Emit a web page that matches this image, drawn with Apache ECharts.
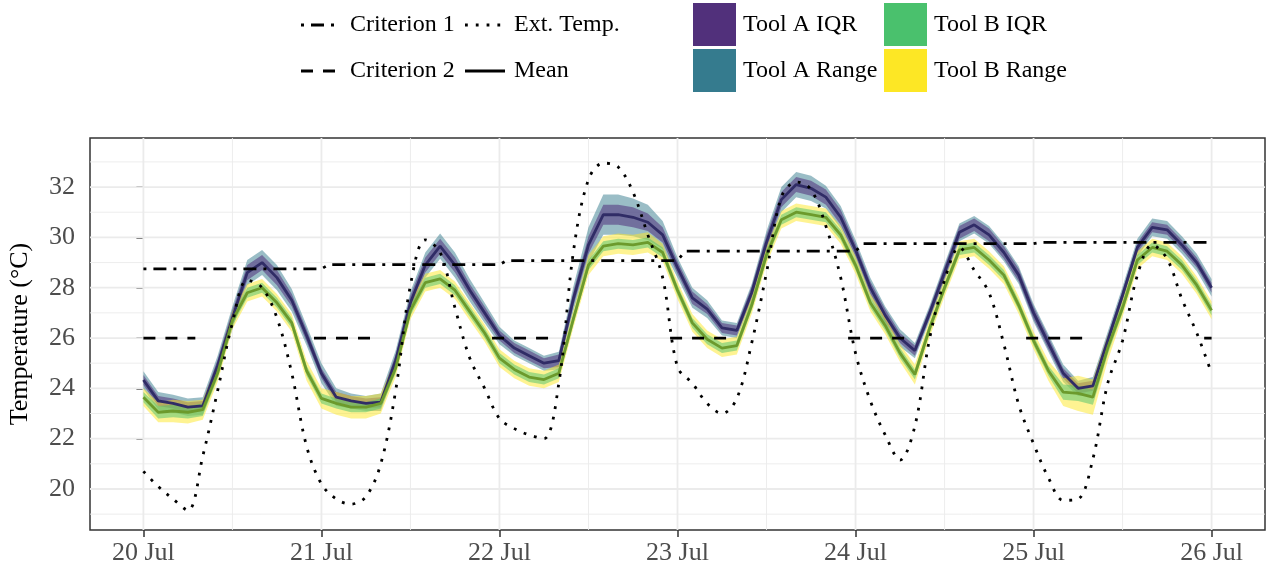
<!DOCTYPE html>
<html>
<head>
<meta charset="utf-8">
<script src="https://cdn.jsdelivr.net/npm/echarts@6/dist/echarts.min.js"></script>
<style>
  html, body { margin: 0; padding: 0; background: #fff; }
  #chart { width: 1273px; height: 572px; }
</style>
</head>
<body>
<div id="chart"></div>
<script>
// hours since 20 Jul 00:00, one reading every 2 h
const hours = Array.from({ length: 73 }, (_, i) => i * 2)

// tool A mean / half IQR / half range
const aMean = [
  24.33, 23.5, 23.4, 23.25, 23.3, 24.9, 26.8, 28.6, 29.0, 28.4, 27.5, 26.1,
  24.6, 23.65, 23.5, 23.4, 23.45, 25.1, 27.4, 28.9, 29.65, 28.9, 27.9, 27.0,
  26.1, 25.6, 25.3, 25.0, 25.1, 27.6, 29.7, 30.9, 30.9, 30.8, 30.6, 30.1,
  28.8, 27.6, 27.15, 26.4, 26.3, 27.8, 29.8, 31.5, 32.1, 31.95, 31.6, 30.8,
  29.5, 28.0, 26.9, 26.0, 25.5, 27.0, 28.6, 30.2, 30.5, 30.1, 29.4, 28.5,
  27.0, 25.8, 24.6, 24.0, 24.1, 25.9, 27.7, 29.6, 30.4, 30.3, 29.7, 29.0,
  28.0
]
const aIqr = [
  .2, .2, .2, .2, .2, .25, .3, .3, .3, .3, .25, .25,
  .2, .2, .2, .2, .2, .25, .3, .3, .3, .3, .25, .25,
  .2, .2, .2, .2, .25, .3, .35, .4, .4, .4, .35, .3,
  .25, .25, .2, .2, .2, .25, .3, .3, .3, .3, .3, .3,
  .25, .25, .25, .2, .2, .2, .25, .25, .25, .25, .25, .25,
  .25, .25, .2, .2, .2, .2, .2, .2, .2, .2, .2, .2,
  .2
]
const aRange = [
  .35, .35, .35, .35, .35, .4, .45, .5, .5, .5, .45, .4,
  .4, .35, .3, .3, .35, .4, .45, .5, .5, .5, .45, .4,
  .35, .3, .3, .3, .35, .5, .7, .8, .8, .75, .7, .55,
  .4, .4, .35, .3, .3, .35, .45, .5, .5, .5, .45, .45,
  .4, .4, .35, .35, .3, .3, .35, .35, .35, .35, .35, .35,
  .35, .35, .35, .3, .35, .35, .35, .35, .35, .35, .35, .35,
  .35
]

// tool B mean / half IQR / half range
const bMean = [
  23.65, 23.05, 23.1, 23.05, 23.15, 24.6, 26.7, 27.8, 28.0, 27.4, 26.6, 24.7,
  23.6, 23.4, 23.25, 23.25, 23.4, 24.8, 27.1, 28.2, 28.35, 27.9, 27.05, 26.2,
  25.2, 24.75, 24.45, 24.35, 24.6, 26.8, 28.9, 29.65, 29.75, 29.7, 29.8, 29.4,
  27.9, 26.6, 25.95, 25.6, 25.7, 27.3, 29.3, 30.7, 31.0, 30.9, 30.8, 30.1,
  28.9, 27.4, 26.5, 25.4, 24.55, 26.4, 28.0, 29.5, 29.6, 29.1, 28.5, 27.3,
  25.9, 24.7, 23.85, 23.8, 23.65, 25.6, 27.2, 29.1, 29.6, 29.45, 28.9, 28.1,
  27.1
]
const bIqr = [
  .2, .25, .25, .25, .25, .2, .2, .2, .2, .2, .2, .2,
  .2, .2, .2, .2, .2, .2, .2, .2, .2, .2, .2, .2,
  .2, .2, .2, .2, .2, .2, .2, .2, .2, .2, .2, .2,
  .2, .2, .2, .2, .2, .2, .2, .2, .2, .2, .2, .2,
  .2, .2, .2, .2, .2, .2, .2, .2, .2, .2, .2, .2,
  .2, .2, .3, .3, .3, .25, .2, .2, .2, .2, .2, .2,
  .2
]
const bRange = [
  .35, .4, .45, .45, .4, .35, .35, .35, .35, .35, .35, .4,
  .4, .45, .45, .45, .4, .35, .35, .35, .35, .35, .35, .35,
  .35, .35, .35, .35, .35, .35, .4, .4, .4, .4, .4, .35,
  .35, .35, .35, .35, .35, .35, .35, .35, .35, .35, .35, .35,
  .35, .35, .35, .35, .4, .35, .35, .35, .35, .35, .35, .35,
  .35, .4, .55, .7, .7, .5, .35, .35, .35, .35, .35, .35,
  .35
]

// outside temperature
const extTemp = [
  20.7, 20.1, 19.6, 19.15, 21.3, 23.9, 26.6, 28.3, 28.0, 26.8, 24.6, 21.7,
  20.2, 19.6, 19.4, 19.7, 21.0, 23.9, 28.1, 29.9, 29.4, 27.2, 25.2, 24.0,
  22.8, 22.4, 22.15, 22.0, 24.2, 29.5, 32.3, 32.95, 32.8, 31.8, 30.1, 28.4,
  24.85, 24.2, 23.4, 23.0, 23.6, 25.8, 28.6, 31.6, 32.2, 31.9, 30.45, 28.4,
  25.4, 23.5, 22.15, 21.15, 22.5, 26.0, 28.3, 29.6, 28.7, 27.8, 25.75, 23.35,
  21.8, 20.45, 19.55, 19.6, 21.2, 24.2, 25.9, 28.5, 29.7, 29.15, 27.55, 26.2,
  24.6
]

// criteria: one value per day (crit 1) and per night window 23:00-07:00 (crit 2)
const crit1Daily = [28.75, 28.92, 29.08, 29.45, 29.75, 29.8]
const crit2Night = [26, 26, 26, 26, 26, 26, 26]

const xTicks = [0, 24, 48, 72, 96, 120, 144]
const xLabels = ['20 Jul', '21 Jul', '22 Jul', '23 Jul', '24 Jul', '25 Jul', '26 Jul']
const xMinor = [12, 36, 60, 84, 108, 132]
const yTicks = [20, 22, 24, 26, 28, 30, 32]
const yMinor = [19, 21, 23, 25, 27, 29, 31, 33]

const FONT = '"Liberation Serif", "Times New Roman", serif'
const COLORS = {
  aIqr: '#51307B',
  aRange: '#357B8E',
  bIqr: '#4AC16D',
  bRange: '#FDE725',
  aMean: '#302C66',
  bMean: '#6C9A2C',
}
const DASH = {
  crit1: [3, 7, 13, 7],
  crit2: [12, 10],
  ext: [2.8, 8],
}

const crit1Data = []
crit1Daily.forEach((v, d) => {
  crit1Data.push([d === 0 ? 0 : d * 24 + 1, v])
  crit1Data.push([(d + 1) * 24, v])
})
const crit2Data = []
crit2Night.forEach((v, d) => {
  const s = Math.max(0, d * 24 - 1)
  const e = Math.min(144, d * 24 + 7)
  crit2Data.push([s, v], [e, v], [e + 0.5, null])
})

const gridLines = (values, horizontal, width) => ({
  type: 'custom',
  silent: true,
  z: 1,
  data: values.map((v) => (horizontal ? [0, v] : [v, 20])),
  renderItem: (params, api) => {
    const cs = params.coordSys
    if (horizontal) {
      const y = api.coord([0, api.value(1)])[1]
      return { type: 'line', shape: { x1: cs.x, y1: y, x2: cs.x + cs.width, y2: y }, style: { stroke: '#EBEBEB', lineWidth: width } }
    }
    const x = api.coord([api.value(0), 20])[0]
    return { type: 'line', shape: { x1: x, y1: cs.y, x2: x, y2: cs.y + cs.height }, style: { stroke: '#EBEBEB', lineWidth: width } }
  },
})

const ribbon = (name, mid, half, color, opacity) => ({
  type: 'custom',
  name,
  silent: true,
  z: 2,
  data: [[0, mid[0]]],
  renderItem: (params, api) => {
    const upper = hours.map((h, i) => api.coord([h, mid[i] + half[i]]))
    const lower = hours.map((h, i) => api.coord([h, mid[i] - half[i]])).reverse()
    return {
      type: 'polygon',
      shape: { points: upper.concat(lower) },
      style: { fill: color, opacity },
    }
  },
})

const line = (name, data, color, width, dash, z, smooth) => ({
  type: 'line',
  name,
  data,
  symbol: 'none',
  silent: true,
  smooth: smooth || false,
  z,
  lineStyle: { color, width, type: dash || 'solid', cap: 'butt' },
})

const toPairs = (values) => hours.map((h, i) => [h, values[i]])

// legend drawn by hand, ggplot style
const legend = []
const lineKeys = [
  { label: 'Criterion 1', x: 299, y: 25, dash: DASH.crit1 },
  { label: 'Criterion 2', x: 299, y: 71, dash: DASH.crit2 },
  { label: 'Ext. Temp.', x: 463, y: 25, dash: DASH.ext },
  { label: 'Mean', x: 463, y: 71, dash: null },
]
lineKeys.forEach((k) => {
  legend.push({
    type: 'line',
    shape: { x1: k.x + 2, y1: k.y, x2: k.x + 42, y2: k.y },
    style: { stroke: '#000', lineWidth: 2.8, lineDash: k.dash, lineCap: 'butt' },
  })
  legend.push({
    type: 'text', x: k.x + 51, y: k.y,
    style: { text: k.label, font: '24px ' + FONT, fill: '#000', verticalAlign: 'middle' },
  })
})
const fillKeys = [
  { label: 'Tool A IQR', x: 693, y: 3, color: COLORS.aIqr },
  { label: 'Tool A Range', x: 693, y: 49, color: COLORS.aRange },
  { label: 'Tool B IQR', x: 884, y: 3, color: COLORS.bIqr },
  { label: 'Tool B Range', x: 884, y: 49, color: COLORS.bRange },
]
fillKeys.forEach((k) => {
  legend.push({
    type: 'rect',
    shape: { x: k.x, y: k.y, width: 43, height: 43 },
    style: { fill: k.color },
  })
  legend.push({
    type: 'text', x: k.x + 50, y: k.y + 22,
    style: { text: k.label, font: '24px ' + FONT, fill: '#000', verticalAlign: 'middle' },
  })
})

const chart = echarts.init(document.getElementById('chart'))
chart.setOption({
  animation: false,
  backgroundColor: '#fff',
  grid: {
    left: 90, right: 8, top: 138, bottom: 42,
    show: true, borderColor: '#333', borderWidth: 1.5, backgroundColor: '#fff',
    containLabel: false, outerBoundsMode: 'none',
  },
  xAxis: {
    type: 'value',
    min: -7.2,
    max: 151.2,
    axisLine: { show: false },
    splitLine: { show: false },
    axisTick: { show: true, length: 7, customValues: xTicks, lineStyle: { color: '#333', width: 1.5 } },
    axisLabel: {
      customValues: xTicks,
      formatter: (v) => xLabels[xTicks.indexOf(v)],
      fontFamily: FONT, fontSize: 26, color: '#4D4D4D', margin: 10,
    },
  },
  yAxis: {
    type: 'value',
    min: 18.37,
    max: 33.95,
    name: 'Temperature (°C)',
    nameLocation: 'middle',
    nameGap: 57,
    nameTextStyle: { fontFamily: FONT, fontSize: 26, color: '#000' },
    axisLine: { show: false },
    splitLine: { show: false },
    axisTick: { show: true, length: 7, customValues: yTicks, lineStyle: { color: '#333', width: 1.5 } },
    axisLabel: { customValues: yTicks, fontFamily: FONT, fontSize: 26, color: '#4D4D4D', margin: 15 },
  },
  graphic: { elements: legend },
  series: [
    gridLines(yMinor, true, 0.9),
    gridLines(xMinor, false, 0.9),
    gridLines(yTicks, true, 1.8),
    gridLines(xTicks, false, 1.8),
    ribbon('Tool A Range', aMean, aRange, COLORS.aRange, 0.5),
    ribbon('Tool A IQR', aMean, aIqr, COLORS.aIqr, 0.55),
    ribbon('Tool B Range', bMean, bRange, COLORS.bRange, 0.5),
    ribbon('Tool B IQR', bMean, bIqr, COLORS.bIqr, 0.5),
    line('Tool A Mean', toPairs(aMean), COLORS.aMean, 2.8, null, 3),
    line('Tool B Mean', toPairs(bMean), COLORS.bMean, 2.8, null, 3),
    line('Criterion 1', crit1Data, '#000', 2.8, DASH.crit1, 4),
    line('Criterion 2', crit2Data, '#000', 2.8, DASH.crit2, 4),
    line('Ext. Temp.', toPairs(extTemp), '#000', 2.8, DASH.ext, 4, 0.35),
  ],
})
</script>
</body>
</html>
